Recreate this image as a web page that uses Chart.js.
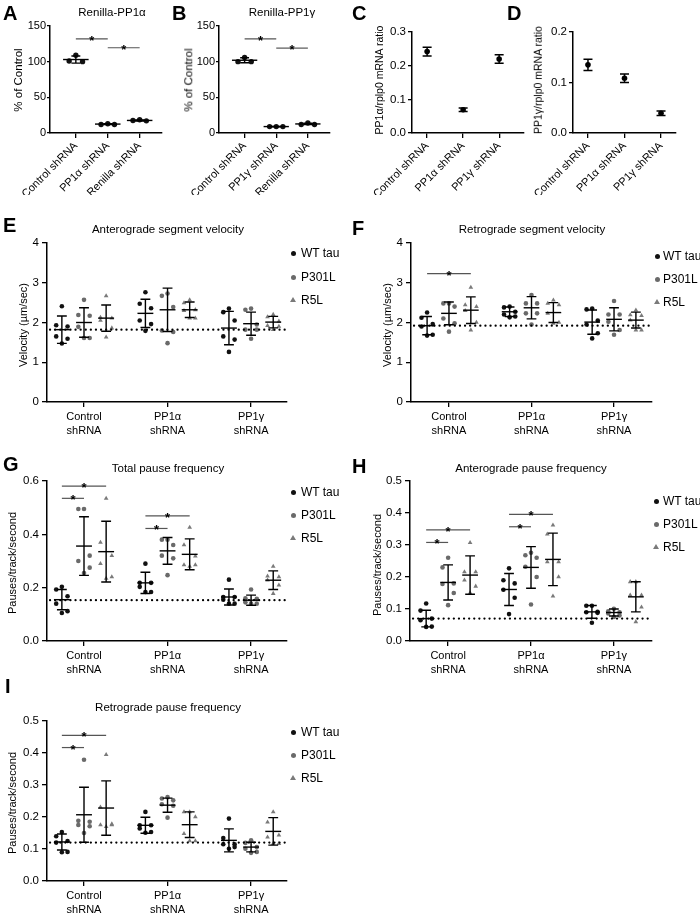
<!DOCTYPE html>
<html>
<head>
<meta charset="utf-8">
<script src="https://cdn.jsdelivr.net/npm/chart.js@4.4.0/dist/chart.umd.min.js"></script>
<style>
  body { margin: 0; background: #fff; font-family: "Liberation Sans", Arial, sans-serif; }
  #fig { position: relative; width: 700px; height: 913px; overflow: hidden; }
  canvas { position: absolute; }
  .t { position: absolute; white-space: nowrap; color: #000; line-height: 1; }
  .letter { font-weight: bold; font-size: 20px; }
  .title { font-size: 11.5px; transform: translate(-50%, -50%); }
  .ytitle { font-size: 11px; transform: translate(-50%, -50%) rotate(-90deg); }
  .leg { font-size: 12px; transform: translateY(-50%); }
  .mk { position: absolute; }
</style>
</head>
<body>
<div id="fig"></div>
<script>
// ---- data ----
const genotypes = ['WT tau', 'P301L', 'R5L'];
const shLabels = [['Control', 'shRNA'], ['PP1α', 'shRNA'], ['PP1γ', 'shRNA']];

// A: Renilla-PP1α, % of control
const aCats = ['Control shRNA', 'PP1α shRNA', 'Renilla shRNA'];
const aPoints = [[109, 101, 100], [13, 12, 12], [18.5, 17.5, 17]];
const aMean = [103, 12.5, 17.6];
const aSd = [5, 0.5, 0.8];
const aSig = [[1, 2, 132], [2, 3, 119.5]];

// B: Renilla-PP1γ
const bCats = ['Control shRNA', 'PP1γ shRNA', 'Renilla shRNA'];
const bPoints = [[106, 100, 100], [9, 9, 9], [14, 12, 12]];
const bMean = [102, 9, 12.7];
const bSd = [3.5, 0.3, 1];
const bSig = [[1, 2, 132], [2, 3, 119]];

// C / D: mRNA ratios, mean ± SEM
const cdCats = ['Control shRNA', 'PP1α shRNA', 'PP1γ shRNA'];
const cMean = [0.242, 0.069, 0.22];
const cSem = [0.013, 0.0055, 0.0125];
const dMean = [0.135, 0.1085, 0.039];
const dSem = [0.011, 0.0085, 0.0045];

// E: Anterograde segment velocity (rows: Control, PP1α, PP1γ)
const eWT = [[2.41, 1.93, 1.90, 1.65, 1.59, 1.47], [2.76, 2.47, 2.36, 2.05, 1.96, 1.79], [2.35, 2.26, 2.05, 1.65, 1.57, 1.26]];
const eP301L = [[2.57, 2.19, 2.17, 1.89, 1.61, 1.61], [2.73, 2.67, 2.39, 1.80, 1.76, 1.48], [2.35, 2.32, 1.95, 1.82, 1.82, 1.59]];
const eR5L = [[2.67, 2.13, 2.11, 2.05, 1.86, 1.63], [2.57, 2.49, 2.32, 2.30, 2.11, 2.11], [2.20, 2.14, 2.03, 1.92, 1.90, 1.82]];
const eMean = [[1.82, 2.23, 1.86], [2.00, 2.32, 1.97], [2.11, 2.32, 2.01]];
const eSd = [[0.345, 0.355, 0.42], [0.37, 0.545, 0.29], [0.33, 0.195, 0.145]];
const eRef = 1.82;
const eSig = [];

// F: Retrograde segment velocity
const fWT = [[2.25, 2.12, 1.96, 1.90, 1.69, 1.67], [2.40, 2.38, 2.27, 2.20, 2.15, 2.13], [2.35, 2.33, 2.05, 1.95, 1.73, 1.60]];
const fP301L = [[2.48, 2.48, 2.40, 2.10, 1.98, 1.77], [2.69, 2.48, 2.48, 2.23, 2.23, 1.95], [2.54, 2.20, 2.20, 2.02, 1.81, 1.69]];
const fR5L = [[2.88, 2.44, 2.40, 2.30, 2.00, 1.81], [2.56, 2.48, 2.44, 2.23, 2.00, 1.98], [2.31, 2.19, 2.17, 2.06, 1.81, 1.81]];
const fMean = [[1.92, 2.27, 2.01], [2.23, 2.37, 2.08], [2.31, 2.25, 2.06]];
const fSd = [[0.23, 0.12, 0.305], [0.285, 0.28, 0.29], [0.335, 0.25, 0.2]];
const fRef = 1.92;
const fSig = [[0, 2, 3.23]];

// G: Total pause frequency
const gWT = [[0.203, 0.193, 0.168, 0.14, 0.112, 0.105], [0.29, 0.218, 0.218, 0.203, 0.184, 0.184], [0.23, 0.165, 0.165, 0.155, 0.14, 0.14]];
const gP301L = [[0.495, 0.495, 0.32, 0.30, 0.275, 0.255], [0.38, 0.38, 0.36, 0.32, 0.31, 0.247], [0.193, 0.16, 0.158, 0.145, 0.14, 0.14]];
const gR5L = [[0.535, 0.37, 0.32, 0.29, 0.24, 0.235], [0.426, 0.36, 0.318, 0.285, 0.285, 0.28], [0.28, 0.243, 0.24, 0.228, 0.209, 0.178]];
const gMean = [[0.155, 0.218, 0.165], [0.356, 0.338, 0.153], [0.335, 0.325, 0.228]];
const gSd = [[0.038, 0.04, 0.03], [0.11, 0.05, 0.019], [0.114, 0.058, 0.035]];
const gRef = 0.153;
const gSig = [[0, 2, 0.581], [0, 1, 0.535], [1, 2, 0.469], [1, 1, 0.422]];

// H: Anterograde pause frequency
const hWT = [[0.117, 0.095, 0.07, 0.065, 0.045, 0.044], [0.227, 0.19, 0.18, 0.16, 0.135, 0.084], [0.11, 0.11, 0.091, 0.09, 0.088, 0.057]];
const hP301L = [[0.26, 0.23, 0.18, 0.178, 0.15, 0.112], [0.276, 0.268, 0.26, 0.232, 0.2, 0.114], [0.101, 0.093, 0.09, 0.086, 0.08, 0.075]];
const hR5L = [[0.307, 0.216, 0.216, 0.19, 0.171, 0.15], [0.362, 0.334, 0.247, 0.247, 0.2, 0.14], [0.185, 0.185, 0.143, 0.143, 0.106, 0.06]];
const hMean = [[0.07, 0.161, 0.091], [0.183, 0.23, 0.089], [0.206, 0.255, 0.138]];
const hSd = [[0.026, 0.05, 0.02], [0.055, 0.065, 0.011], [0.06, 0.082, 0.047]];
const hRef = 0.07;
const hSig = [[0, 2, 0.347], [0, 1, 0.308], [1, 2, 0.396], [1, 1, 0.357]];

// I: Retrograde pause frequency
const iWT = [[0.153, 0.14, 0.125, 0.12, 0.091, 0.09], [0.216, 0.174, 0.174, 0.164, 0.153, 0.151], [0.195, 0.134, 0.115, 0.115, 0.106, 0.101]];
const iP301L = [[0.379, 0.188, 0.185, 0.175, 0.171, 0.15], [0.262, 0.258, 0.252, 0.24, 0.235, 0.198], [0.127, 0.119, 0.106, 0.101, 0.091, 0.088]];
const iR5L = [[0.395, 0.231, 0.178, 0.175, 0.175, 0.17], [0.216, 0.216, 0.2, 0.148, 0.125, 0.125], [0.216, 0.184, 0.143, 0.137, 0.117, 0.117]];
const iMean = [[0.122, 0.174, 0.127], [0.207, 0.237, 0.106], [0.228, 0.176, 0.155]];
const iSd = [[0.025, 0.025, 0.036], [0.086, 0.022, 0.015], [0.085, 0.04, 0.043]];
const iRef = 0.12;
const iSig = [[0, 2, 0.455], [0, 1, 0.417]];

// ---- drawing ----
Chart.defaults.font.family = '"Liberation Sans", Arial, sans-serif';
Chart.defaults.font.size = 11;
Chart.defaults.color = '#000';

const fig = document.getElementById('fig');
const colors = ['#111', '#6a6a6a', '#7a7a7a'];
const shapes = ['circle', 'circle', 'triangle'];
const GOFF = [-0.265, 0, 0.265];
const JIT6 = [0, -1, 1, -1, 1, 0];
const JIT3 = [0, -1, 1];

function addText(cls, txt, x, y) {
  const d = document.createElement('div');
  d.className = 't ' + cls;
  d.textContent = txt;
  d.style.left = x + 'px';
  d.style.top = y + 'px';
  fig.appendChild(d);
}

function legend(xDot, xText, ys) {
  genotypes.forEach((name, i) => {
    const m = document.createElement('div');
    m.className = 'mk';
    if (i < 2) {
      m.style.cssText += `left:${xDot - 2.5}px;top:${ys[i] - 2.5}px;width:5px;height:5px;border-radius:50%;background:${colors[i]};`;
    } else {
      m.style.cssText += `left:${xDot - 3}px;top:${ys[i] - 3}px;width:0;height:0;border-left:3px solid transparent;border-right:3px solid transparent;border-bottom:5px solid ${colors[i]};`;
    }
    fig.appendChild(m);
    addText('leg', name, xText, ys[i]);
  });
}

function makeChart(p) {
  const c = document.createElement('canvas');
  const L = p.box.l - p.ml, T = p.box.t - p.mt;
  const W = p.box.r + p.mr - L, H = p.box.b + p.mb - T;
  c.width = W; c.height = H;
  c.style.left = L + 'px'; c.style.top = T + 'px';
  c.style.width = W + 'px'; c.style.height = H + 'px';
  fig.appendChild(c);
  const axisBorder = { color: '#000', width: 1.5 };
  return new Chart(c, {
    type: 'scatter',
    data: { datasets: p.datasets },
    options: {
      responsive: false,
      animation: false,
      events: [],
      layout: { padding: { left: 0, top: p.mt, right: p.mr, bottom: 0 } },
      plugins: { legend: { display: false }, tooltip: { enabled: false } },
      scales: {
        x: {
          type: 'linear', min: p.xMin, max: p.xMax,
          afterBuildTicks: s => { s.ticks = [1, 2, 3].map(v => ({ value: v })); },
          afterFit: s => { s.height = p.mb; },
          grid: { drawOnChartArea: false, tickLength: 5, color: '#000', lineWidth: 1.3 },
          border: axisBorder,
          ticks: {
            callback: v => p.xLabels[v - 1],
            minRotation: p.rot, maxRotation: p.rot, autoSkip: false, padding: p.rot ? 1 : 3,
            font: { size: 11, lineHeight: 1.3 }
          }
        },
        y: {
          min: p.yMin, max: p.yMax,
          afterFit: s => { s.width = p.ml; },
          grid: { drawOnChartArea: false, tickLength: p.yTick || 5, color: '#000', lineWidth: 1.3 },
          border: axisBorder,
          ticks: {
            stepSize: p.yStep, callback: v => p.yFmt(v),
            padding: p.yPad === undefined ? 3 : p.yPad, font: { size: p.yFont || 11.5 }
          }
        }
      }
    },
    plugins: [{
      id: 'marks',
      afterDatasetsDraw(chart) {
        const ctx = chart.ctx;
        ctx.save();
        p.draw(ctx, chart.scales.x, chart.scales.y, chart.chartArea);
        ctx.restore();
      }
    }]
  });
}

function sigLine(ctx, x1, x2, y) {
  ctx.strokeStyle = '#555';
  ctx.lineWidth = 1.2;
  ctx.beginPath(); ctx.moveTo(x1, y); ctx.lineTo(x2, y); ctx.stroke();
  ctx.fillStyle = '#000';
  ctx.font = 'bold 13px "Liberation Sans", Arial, sans-serif';
  ctx.textAlign = 'center';
  ctx.textBaseline = 'alphabetic';
  ctx.fillText('*', (x1 + x2) / 2, y + 6);
}

function errBar(ctx, x, yTop, yBot, half) {
  ctx.beginPath();
  ctx.moveTo(x, yTop); ctx.lineTo(x, yBot);
  ctx.moveTo(x - half, yTop); ctx.lineTo(x + half, yTop);
  ctx.moveTo(x - half, yBot); ctx.lineTo(x + half, yBot);
  ctx.stroke();
}

// ----- A and B: three replicates, mean line -----
function knockdownPanel(box, cats, pts, mean, sd, sig) {
  makeChart({
    box, ml: 50, mt: 14, mr: 6, mb: 62, yTick: 3, yPad: 1, yFont: 11,
    xMin: 0.19, xMax: 3.7, yMin: 0, yMax: 150, yStep: 50, yFmt: v => String(v),
    xLabels: cats, rot: 45,
    datasets: [{
      data: pts.flatMap((vals, ci) => [...vals].sort((a, b) => b - a).map((v, k) => ({ x: ci + 1 + JIT3[k] * 0.21, y: v }))),
      pointStyle: 'circle', pointRadius: 2.7, backgroundColor: '#111', borderWidth: 0
    }],
    draw(ctx, xs, ys) {
      ctx.strokeStyle = '#000';
      ctx.lineWidth = 1.4;
      mean.forEach((m, ci) => {
        const x = xs.getPixelForValue(ci + 1), y = ys.getPixelForValue(m);
        const w = xs.getPixelForValue(ci + 1.4) - x;
        ctx.beginPath(); ctx.moveTo(x - w, y); ctx.lineTo(x + w, y); ctx.stroke();
        errBar(ctx, x, ys.getPixelForValue(m + sd[ci]), ys.getPixelForValue(m - sd[ci]), w * 0.35);
      });
      sig.forEach(s => sigLine(ctx, xs.getPixelForValue(s[0]), xs.getPixelForValue(s[1]), ys.getPixelForValue(s[2])));
    }
  });
}
knockdownPanel({ l: 50, t: 26, r: 162, b: 133 }, aCats, aPoints, aMean, aSd, aSig);
knockdownPanel({ l: 219, t: 26, r: 330, b: 133 }, bCats, bPoints, bMean, bSd, bSig);

// ----- C and D: mean ± SEM -----
function ratioPanel(box, ml, xMin, xMax, yMax, mean, sem) {
  makeChart({
    box, ml, mt: 14, mr: 6, mb: 62, yTick: 4, yPad: 2,
    xMin, xMax, yMin: 0, yMax, yStep: 0.1, yFmt: v => v.toFixed(1),
    xLabels: cdCats, rot: 45,
    datasets: [{
      data: mean.map((v, i) => ({ x: i + 1, y: v })),
      pointStyle: 'circle', pointRadius: 2.8, backgroundColor: '#000', borderWidth: 0
    }],
    draw(ctx, xs, ys) {
      ctx.strokeStyle = '#000';
      ctx.lineWidth = 1.5;
      mean.forEach((m, i) => {
        const x = xs.getPixelForValue(i + 1);
        errBar(ctx, x, ys.getPixelForValue(m + sem[i]), ys.getPixelForValue(m - sem[i]), 4.5);
      });
    }
  });
}
ratioPanel({ l: 412, t: 32, r: 524, b: 133 }, 60, 0.58, 3.69, 0.3, cMean, cSem);
ratioPanel({ l: 573, t: 32, r: 676, b: 133 }, 60, 0.59, 3.41, 0.2, dMean, dSem);

// ----- E to I: tau genotypes per shRNA -----
function tauPanel(box, ml, xMin, xMax, yMax, yStep, fmt, series, mean, sd, ref, sig, mb) {
  makeChart({
    box, ml, mt: 14, mr: 6, mb: mb || 42,
    xMin, xMax, yMin: 0, yMax, yStep, yFmt: fmt,
    xLabels: shLabels, rot: 0,
    datasets: series.map((rows, gi) => ({
      data: rows.flatMap((vals, ci) => [...vals].sort((a, b) => b - a)
        .map((v, k) => ({ x: ci + 1 + GOFF[gi] + JIT6[k] * 0.068, y: v }))),
      pointStyle: shapes[gi], pointRadius: gi === 2 ? 2.7 : 2.3,
      backgroundColor: colors[gi], borderWidth: 0
    })),
    draw(ctx, xs, ys, area) {
      const yr = ys.getPixelForValue(ref);
      ctx.strokeStyle = '#000';
      ctx.lineWidth = 2.2;
      ctx.lineCap = 'round';
      ctx.setLineDash([0.1, 5]);
      ctx.beginPath(); ctx.moveTo(area.left + 3, yr); ctx.lineTo(area.right, yr); ctx.stroke();
      ctx.setLineDash([]);
      ctx.lineCap = 'butt';
      ctx.lineWidth = 1.4;
      mean.forEach((row, gi) => row.forEach((m, ci) => {
        const x = xs.getPixelForValue(ci + 1 + GOFF[gi]);
        const w = xs.getPixelForValue(ci + 1.095) - xs.getPixelForValue(ci + 1);
        const y = ys.getPixelForValue(m);
        ctx.beginPath(); ctx.moveTo(x - w, y); ctx.lineTo(x + w, y); ctx.stroke();
        errBar(ctx, x, ys.getPixelForValue(m + sd[gi][ci]), ys.getPixelForValue(m - sd[gi][ci]), w * 0.62);
      }));
      sig.forEach(s => sigLine(ctx,
        xs.getPixelForValue(s[0] + 1 + GOFF[0]), xs.getPixelForValue(s[0] + 1 + GOFF[s[1]]), ys.getPixelForValue(s[2])));
    }
  });
}
const f0 = v => String(v);
const f1 = v => v.toFixed(1);
tauPanel({ l: 47, t: 243, r: 287, b: 402 }, 47, 0.557, 3.43, 4, 1, f0, [eWT, eP301L, eR5L], eMean, eSd, eRef, eSig);
tauPanel({ l: 411, t: 243, r: 652, b: 402 }, 60, 0.54, 3.46, 4, 1, f0, [fWT, fP301L, fR5L], fMean, fSd, fRef, fSig);
tauPanel({ l: 47, t: 481, r: 287, b: 641 }, 47, 0.557, 3.43, 0.6, 0.2, f1, [gWT, gP301L, gR5L], gMean, gSd, gRef, gSig);
tauPanel({ l: 410, t: 481, r: 652, b: 641 }, 60, 0.54, 3.46, 0.5, 0.1, f1, [hWT, hP301L, hR5L], hMean, hSd, hRef, hSig);
tauPanel({ l: 47, t: 721, r: 287, b: 881 }, 47, 0.557, 3.43, 0.5, 0.1, f1, [iWT, iP301L, iR5L], iMean, iSd, iRef, iSig, 32);

// ----- text -----
[['A', 3, 3], ['B', 172, 3], ['C', 352, 3], ['D', 507, 3], ['E', 3, 215], ['F', 352, 218],
 ['G', 3, 454], ['H', 352, 456], ['I', 5, 676]].forEach(l => addText('letter', l[0], l[1], l[2]));

[['Renilla-PP1α', 112, 13], ['Renilla-PP1γ', 282, 13], ['Anterograde segment velocity', 168, 230],
 ['Retrograde segment velocity', 532, 230], ['Total pause frequency', 168, 469],
 ['Anterograde pause frequency', 531, 469], ['Retrograde pause frequency', 168, 708]]
  .forEach(t => addText('title', t[0], t[1], t[2]));

[['% of Control', 19, 80, 11.5], ['% of Control', 189, 80, 11.5], ['PP1α/rplp0 mRNA ratio', 379, 80, 10.5],
 ['PP1γ/rplp0 mRNA ratio', 538, 80, 10.5], ['Velocity (µm/sec)', 23, 325, 11], ['Velocity (µm/sec)', 387, 325, 11],
 ['Pauses/track/second', 12, 563, 11], ['Pauses/track/second', 377, 565, 11], ['Pauses/track/second', 12, 803, 11]]
  .forEach(t => { addText('ytitle', t[0], t[1], t[2]); fig.lastChild.style.fontSize = t[3] + 'px'; });

legend(293, 301, [253, 277, 300]);
legend(657, 663, [256, 279, 302]);
legend(293, 301, [492, 515, 538]);
legend(656, 663, [501, 524, 547]);
legend(293, 301, [732, 755, 778]);
</script>
</body>
</html>
